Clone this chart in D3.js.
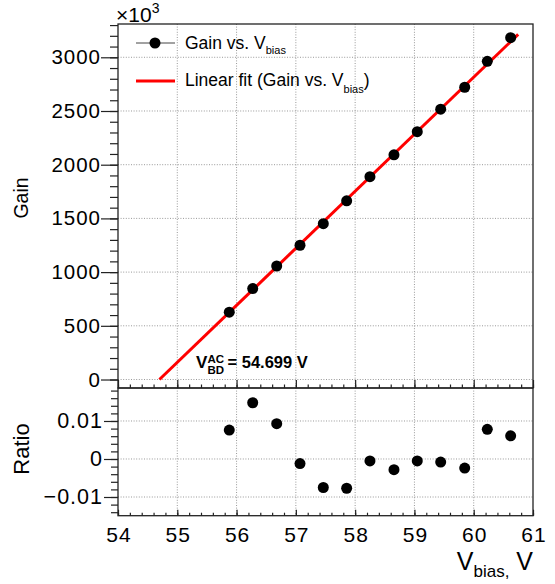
<!DOCTYPE html>
<html><head><meta charset="utf-8">
<script src="https://cdn.jsdelivr.net/npm/d3@7"></script>
<style>
body{margin:0;background:#fff}
svg{display:block}
text{font-family:"Liberation Sans",Arial,Helvetica,sans-serif;fill:#000}
</style>
</head><body>
<svg id="c" width="555" height="584"></svg>
<script>
// ---- data ----
const vbias = [55.877, 56.272, 56.677, 57.070, 57.463, 57.857, 58.250, 58.655, 59.048, 59.443, 59.848, 60.229, 60.623];
const gain  = [627, 847, 1057, 1250, 1451, 1664, 1888, 2092, 2307, 2517, 2721, 2963, 3183];
const ratio = [0.0076, 0.0148, 0.0093, -0.0012, -0.0075, -0.0077, -0.0005, -0.0028, -0.0005, -0.0008, -0.0024, 0.0078, 0.0061];
const fitVbd = 54.699;
const fitSlope = 531;
const fitEnd = 60.75;
const xTicks = [54, 55, 56, 57, 58, 59, 60, 61];
const gainTicks = [0, 500, 1000, 1500, 2000, 2500, 3000];
const gainMinor = d3.range(0, 3301, 100);
const ratioTicks = [-0.01, 0, 0.01];
const ratioTickLabels = ["\u22120.01", "0", "0.01"];
const ratioMinor = d3.range(-14, 19, 2).map(d => d / 1000);
const xMinor = d3.range(54, 61.001, 0.2).map(d => +d.toFixed(1));

// ---- layout ----
const svg = d3.select("#c");
const L = 118, R = 533, T = 24, MID = 388, B = 515.7;
const x = d3.scaleLinear([54, 61], [L, R]);
const yG = d3.scaleLinear([-79, 3310], [MID, T]);
const yR = d3.scaleLinear([-0.01492, 0.01868], [B, MID]);

const grid = svg.append("g").attr("stroke", "#999").attr("stroke-width", 1).attr("stroke-dasharray", "1,1.6");
xTicks.filter(d => d > 54 && d < 61).forEach(v => {
  grid.append("line").attr("x1", x(v)).attr("x2", x(v)).attr("y1", T).attr("y2", MID);
  grid.append("line").attr("x1", x(v)).attr("x2", x(v)).attr("y1", MID).attr("y2", B);
});
gainTicks.forEach(g => grid.append("line").attr("x1", L).attr("x2", R).attr("y1", yG(g)).attr("y2", yG(g)));
ratioTicks.forEach(r => grid.append("line").attr("x1", L).attr("x2", R).attr("y1", yR(r)).attr("y2", yR(r)));

// ---- fit line ----
const fitPts = [fitVbd, fitEnd].map(v => [v, fitSlope * (v - fitVbd)]);
svg.append("path").datum(fitPts)
  .attr("d", d3.line().x(d => x(d[0])).y(d => yG(d[1])))
  .attr("stroke", "#ff0000").attr("stroke-width", 3).attr("fill", "none");

// ---- points ----
svg.append("g").selectAll("circle").data(vbias).join("circle")
  .attr("cx", d => x(d)).attr("cy", (d, i) => yG(gain[i])).attr("r", 5.5).attr("fill", "#000");
svg.append("g").selectAll("circle").data(vbias).join("circle")
  .attr("cx", d => x(d)).attr("cy", (d, i) => yR(ratio[i])).attr("r", 5.5).attr("fill", "#000");

// ---- axes ----
function styleAxis(g) {
  g.select(".domain").remove();
  g.selectAll(".tick line").attr("stroke", "#222").attr("stroke-width", 1.2);
}
const LS = 1;
svg.append("g").attr("transform", `translate(${L},0)`)
  .call(d3.axisLeft(yG).tickValues(gainMinor).tickSize(8).tickFormat(""))
  .call(styleAxis);
svg.append("g").attr("transform", `translate(${L},0)`)
  .call(d3.axisLeft(yG).tickValues(gainTicks).tickSize(17).tickPadding(1 - LS).tickFormat(d3.format("d")))
  .call(styleAxis)
  .call(g => g.selectAll(".tick text").attr("font-size", 20.5).attr("letter-spacing", LS));
svg.append("g").attr("transform", `translate(${L},0)`)
  .call(d3.axisLeft(yR).tickValues(ratioMinor).tickSize(7).tickFormat(""))
  .call(styleAxis);
svg.append("g").attr("transform", `translate(${L},0)`)
  .call(d3.axisLeft(yR).tickValues(ratioTicks).tickSize(14).tickPadding(2 - LS).tickFormat((d, i) => ratioTickLabels[i]))
  .call(styleAxis)
  .call(g => g.selectAll(".tick text").attr("font-size", 21.5).attr("letter-spacing", LS));
svg.append("g").attr("transform", `translate(0,${MID})`)
  .call(d3.axisBottom(x).tickValues(xMinor).tickSizeInner(-3.5).tickSizeOuter(0).tickFormat(""))
  .call(styleAxis);
svg.append("g").attr("transform", `translate(0,${MID})`)
  .call(d3.axisBottom(x).tickValues(xTicks).tickSizeInner(-8).tickSizeOuter(0).tickFormat(""))
  .call(styleAxis);
svg.append("g").attr("transform", `translate(0,${B})`)
  .call(d3.axisBottom(x).tickValues(xMinor).tickSizeInner(-3).tickSizeOuter(0).tickFormat(""))
  .call(styleAxis);
svg.append("g").attr("transform", `translate(0,${B})`)
  .call(d3.axisBottom(x).tickValues(xTicks).tickSizeInner(-6).tickSizeOuter(0).tickPadding(11).tickFormat(d3.format("d")))
  .call(styleAxis)
  .call(g => g.selectAll(".tick text").attr("font-size", 21).attr("letter-spacing", LS).attr("dx", LS / 2));

// ---- frames ----
svg.append("rect").attr("x", L).attr("y", T).attr("width", R - L).attr("height", MID - T)
  .attr("fill", "none").attr("stroke", "#222").attr("stroke-width", 1.3);
svg.append("rect").attr("x", L).attr("y", MID).attr("width", R - L).attr("height", B - MID)
  .attr("fill", "none").attr("stroke", "#222").attr("stroke-width", 1.3);

// ---- titles ----
const mul = svg.append("text").attr("x", 116).attr("y", 22).attr("font-size", 21);
mul.append("tspan").text("\u00d710");
mul.append("tspan").attr("font-size", 14).attr("dy", -9).text("3");

svg.append("text").attr("transform", "translate(28,198) rotate(-90)").attr("text-anchor", "middle")
  .attr("font-size", 19.5).text("Gain");
svg.append("text").attr("transform", "translate(29,449) rotate(-90)").attr("text-anchor", "middle")
  .attr("font-size", 22).text("Ratio");

const xt = svg.append("text").attr("x", 533).attr("y", 570).attr("text-anchor", "end").attr("font-size", 25);
xt.append("tspan").text("V");
xt.append("tspan").attr("font-size", 17).attr("dy", 7).text("bias,");
xt.append("tspan").attr("dy", -7).text("\u00a0V");

// ---- legend ----
svg.append("line").attr("x1", 136).attr("x2", 175).attr("y1", 43).attr("y2", 43).attr("stroke", "#444").attr("stroke-width", 1);
svg.append("circle").attr("cx", 155).attr("cy", 43).attr("r", 5.5).attr("fill", "#000");
svg.append("line").attr("x1", 136).attr("x2", 175).attr("y1", 81).attr("y2", 81).attr("stroke", "#ff0000").attr("stroke-width", 3);
const l1 = svg.append("text").attr("x", 185).attr("y", 49).attr("font-size", 17.5);
l1.append("tspan").text("Gain vs. V");
l1.append("tspan").attr("font-size", 11).attr("dy", 4.5).text("bias");
const l2 = svg.append("text").attr("x", 185).attr("y", 85.5).attr("font-size", 17.5);
l2.append("tspan").text("Linear fit (Gain vs. V");
l2.append("tspan").attr("font-size", 11).attr("dy", 7).text("bias");
l2.append("tspan").attr("dy", -7).text(")");

// ---- annotation ----
const ann = svg.append("g");
ann.append("text").attr("x", 196).attr("y", 368.3).attr("font-size", 17).attr("font-weight", "bold").text("V");
ann.append("text").attr("x", 207.5).attr("y", 362.5).attr("font-size", 11.5).attr("font-weight", "bold").text("AC");
ann.append("text").attr("x", 207.5).attr("y", 373.5).attr("font-size", 11.5).attr("font-weight", "bold").text("BD");
ann.append("text").attr("x", 227.5).attr("y", 368.3).attr("font-size", 16.5).attr("font-weight", "bold").text("= " + fitVbd.toFixed(3) + " V");
</script>
</body></html>
